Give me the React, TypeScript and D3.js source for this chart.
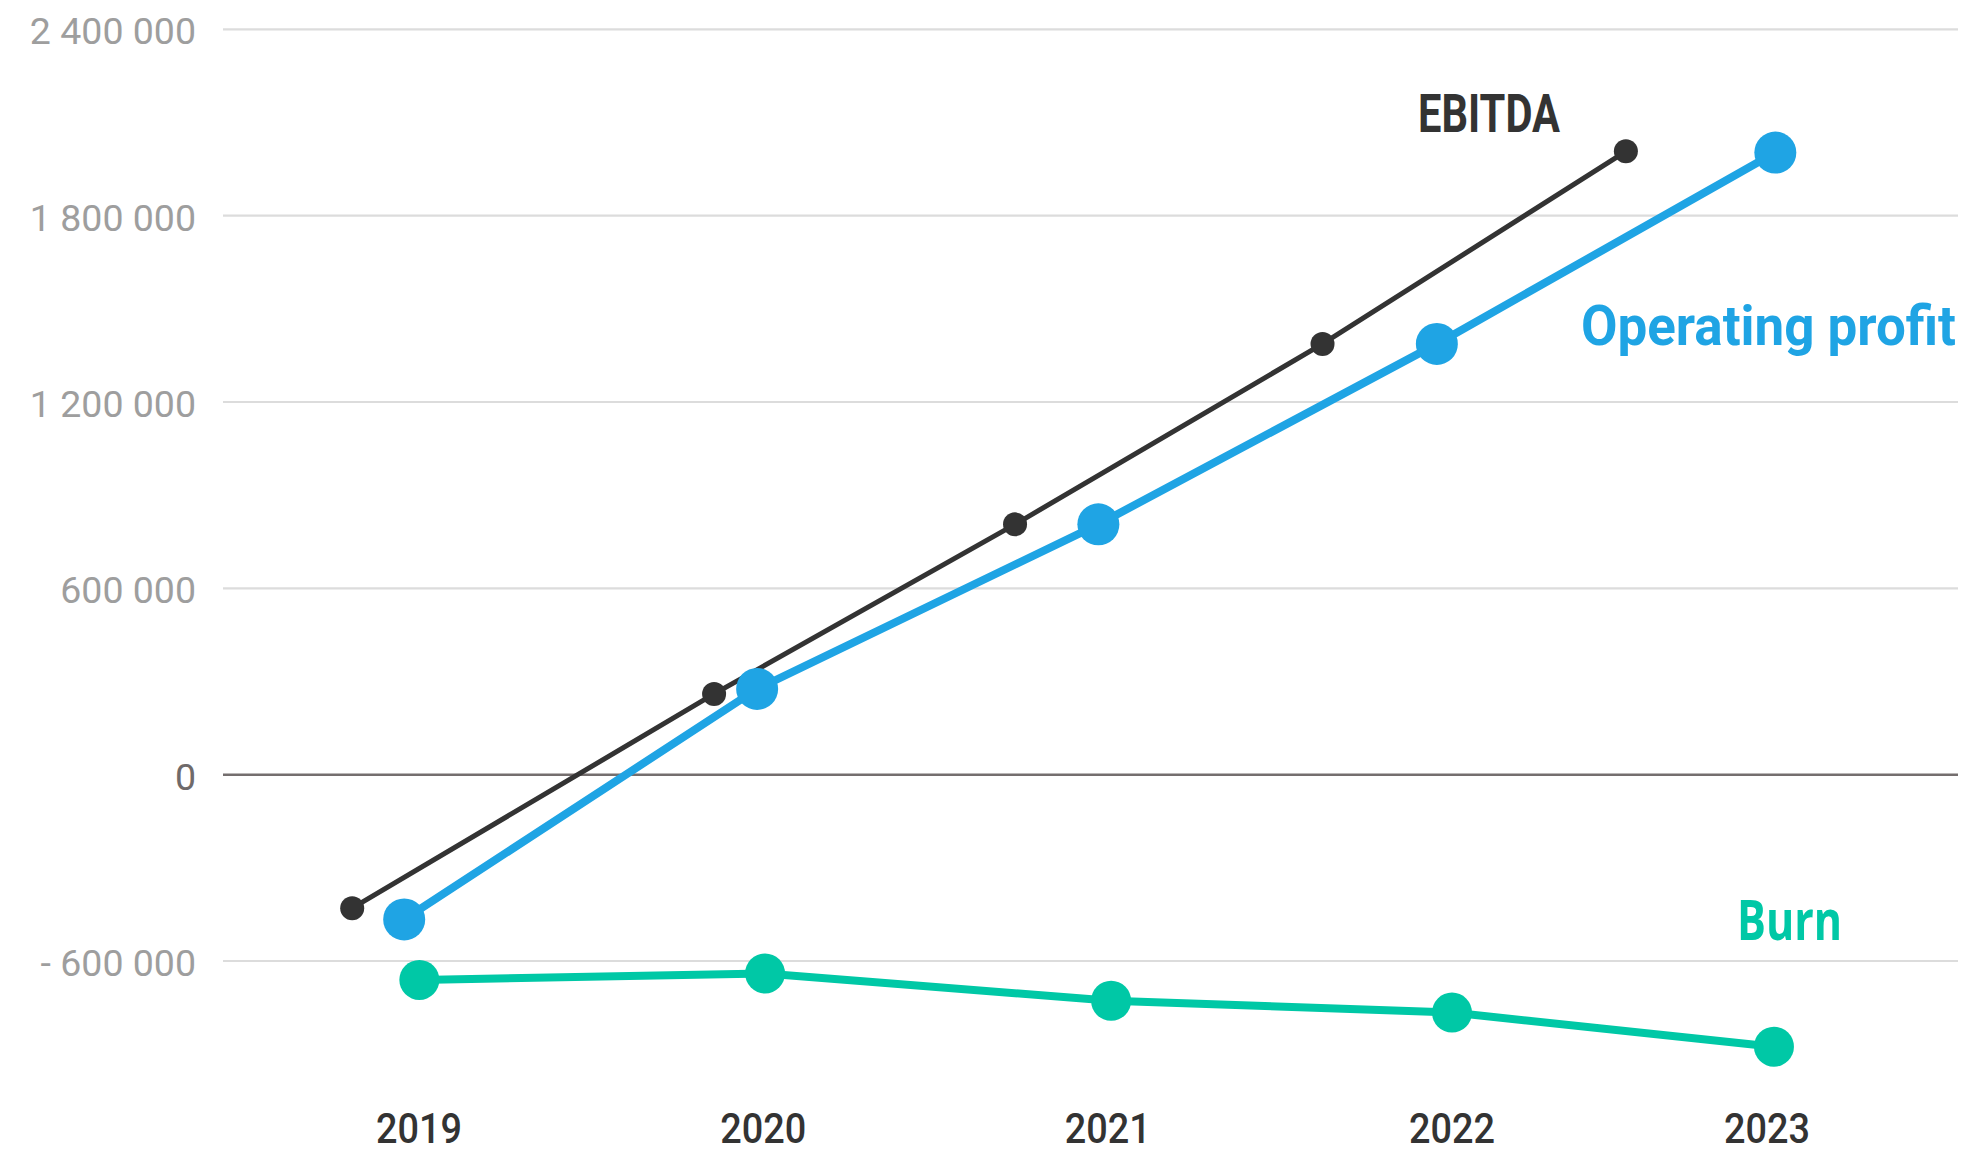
import * as d3 from "d3";
import { useEffect, useRef } from "react";

// values
const yTicks = [2400000, 1800000, 1200000, 600000, 0, -600000];
const yearLabels = ["2019", "2020", "2021", "2022", "2023"];
const yearLabelPos = [2019, 2020, 2021, 2022, 2022.915];

// points sit at slightly different positions along the year axis per series
const ebitdaT = [2018.806, 2019.857, 2020.731, 2021.624, 2022.505];
const ebitda = [-430000, 260000, 806000, 1387000, 2007000];

const opProfitT = [2018.957, 2019.982, 2020.973, 2021.956, 2022.939];
const opProfit = [-466000, 276000, 806000, 1387000, 2003000];

const burnT = [2019.001, 2020.005, 2021.01, 2022.0, 2022.935];
const burn = [-661000, -640000, -728000, -766000, -876000];

const WIDTH = 1967;
const HEIGHT = 1150;

export default function App() {
  const svgRef = useRef<SVGSVGElement>(null);

  useEffect(() => {
    if (!svgRef.current) return;
    const svg = d3.select(svgRef.current);
    svg.selectAll("*").remove();

    const gridLeft = 223;
    const gridRight = 1958;

    const x = d3.scaleLinear().domain([2019, 2022]).range([419, 1452]);
    const y = d3.scaleLinear().domain([-600000, 2400000]).range([961, 29.3]);

    // grid
    const grid = svg.append("g");
    grid
      .selectAll("line")
      .data(yTicks)
      .enter()
      .append("line")
      .attr("x1", gridLeft)
      .attr("x2", gridRight)
      .attr("y1", (d) => y(d))
      .attr("y2", (d) => y(d))
      .style("stroke", (d) => (d === 0 ? "#746e6e" : "#dcdcdc"))
      .style("stroke-width", (d) => (d === 0 ? 2.5 : 2.2));

    const fmt = (d: number) => {
      if (d === 0) return "0";
      const s = d3.format(",")(Math.abs(d)).replace(/,/g, " ");
      return d < 0 ? "- " + s : s;
    };

    grid
      .selectAll("text")
      .data(yTicks)
      .enter()
      .append("text")
      .attr("x", 196)
      .attr("y", (d) => y(d) + 15)
      .attr("text-anchor", "end")
      .style("font-family", "Roboto")
      .style("font-size", "37.5px")
      .style("fill", (d) => (d === 0 ? "#6f6a6a" : "#9e9e9e"))
      .text(fmt);

    // year labels
    svg
      .append("g")
      .selectAll("text")
      .data(yearLabels)
      .enter()
      .append("text")
      .attr("x", (_, i) => x(yearLabelPos[i]) - 43)
      .attr("y", 1143)
      .attr("textLength", 86)
      .attr("lengthAdjust", "spacingAndGlyphs")
      .style("font-family", "Roboto")
      .style("font-weight", 500)
      .style("font-size", "42px")
      .style("fill", "#333333")
      .text((d) => d);

    const series = [
      { t: ebitdaT, v: ebitda, color: "#333333", width: 5, r: 12 },
      { t: opProfitT, v: opProfit, color: "#1fa4e4", width: 8, r: 21 },
      { t: burnT, v: burn, color: "#00c8a6", width: 8, r: 20 },
    ];

    const line = d3
      .line<[number, number]>()
      .x((d) => x(d[0]))
      .y((d) => y(d[1]));

    series.forEach((s) => {
      const pts = s.t.map((t, i) => [t, s.v[i]] as [number, number]);
      const g = svg.append("g");
      g.append("path")
        .attr("d", line(pts))
        .style("fill", "none")
        .style("stroke", s.color)
        .style("stroke-width", s.width);
      g.selectAll("circle")
        .data(pts)
        .enter()
        .append("circle")
        .attr("cx", (d) => x(d[0]))
        .attr("cy", (d) => y(d[1]))
        .attr("r", s.r)
        .style("fill", s.color);
    });

    // series labels
    const labels = [
      { text: "EBITDA", x: 1418, y: 132, len: 142, color: "#333333", font: "Roboto", size: 53 },
      { text: "Operating profit", x: 1581, y: 345, len: 375, color: "#1fa4e4", font: "Roboto", size: 56 },
      { text: "Burn", x: 1737, y: 940, len: 105, color: "#00c8a6", font: "Open Sans", size: 56 },
    ];
    svg
      .append("g")
      .selectAll("text")
      .data(labels)
      .enter()
      .append("text")
      .attr("x", (d) => d.x)
      .attr("y", (d) => d.y)
      .attr("textLength", (d) => d.len)
      .attr("lengthAdjust", "spacingAndGlyphs")
      .style("font-family", (d) => d.font)
      .style("font-weight", 700)
      .style("font-size", (d) => `${d.size}px`)
      .style("fill", (d) => d.color)
      .text((d) => d.text);
  }, []);

  return (
    <svg
      ref={svgRef}
      width={WIDTH}
      height={HEIGHT}
      style={{ position: "absolute", left: 0, top: 0, background: "#ffffff" }}
    />
  );
}
